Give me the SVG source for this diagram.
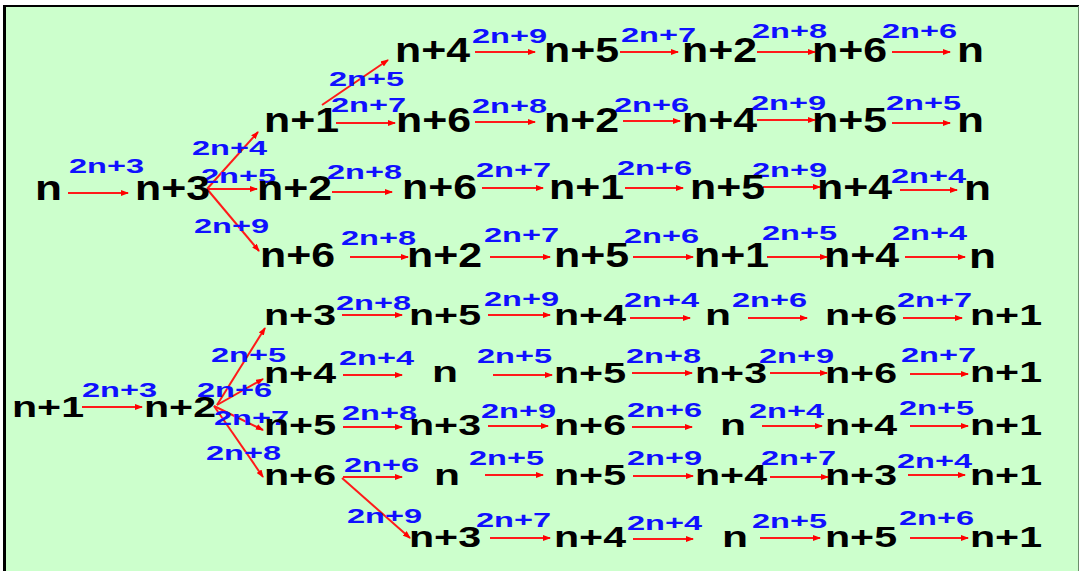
<svg xmlns="http://www.w3.org/2000/svg" width="1079" height="571" viewBox="0 0 1079 571">
<defs>
<style>
text{font-family:"Liberation Sans",Arial,sans-serif;font-weight:bold;}
.nt{font-size:35px;fill:#000;}
.nb{font-size:29px;fill:#000;}
.el{font-size:21px;fill:#1010ff;}
.ar{stroke:#ff1a1a;stroke-width:2;fill:none;marker-end:url(#ah);}
</style>
<marker id="ah" markerWidth="8" markerHeight="6" refX="7" refY="3" orient="auto" markerUnits="userSpaceOnUse"><path d="M0,0 L8,3 L0,6 z" fill="#ff0000"/></marker>
</defs>
<rect x="0" y="0" width="1079" height="571" fill="#ffffff"/>
<rect x="4" y="5" width="1075" height="566" fill="#ccffcc"/>
<line x1="4.5" y1="5" x2="4.5" y2="571" stroke="#000" stroke-width="3"/>
<line x1="3" y1="6" x2="1079" y2="6" stroke="#000" stroke-width="2"/>
<line x1="1078.5" y1="6" x2="1078.5" y2="571" stroke="#6b8e6b" stroke-width="1"/>

<g id="connectors">
<!-- top half -->
<line class="ar" x1="68" y1="193" x2="128" y2="193"/>
<line class="ar" x1="207" y1="189" x2="258" y2="132"/>
<line class="ar" x1="207" y1="189" x2="257" y2="189"/>
<line class="ar" x1="207" y1="189" x2="259" y2="251"/>
<line class="ar" x1="322" y1="105" x2="388" y2="60"/>
<line class="ar" x1="475" y1="52" x2="535" y2="52"/>
<line class="ar" x1="620" y1="52" x2="678" y2="52"/>
<line class="ar" x1="757" y1="52" x2="815" y2="52"/>
<line class="ar" x1="892" y1="52" x2="950" y2="52"/>
<line class="ar" x1="336" y1="123" x2="395" y2="123"/>
<line class="ar" x1="475" y1="122" x2="535" y2="122"/>
<line class="ar" x1="623" y1="121" x2="680" y2="121"/>
<line class="ar" x1="757" y1="120" x2="815" y2="120"/>
<line class="ar" x1="892" y1="123" x2="950" y2="123"/>
<line class="ar" x1="332" y1="192" x2="392" y2="192"/>
<line class="ar" x1="482" y1="188" x2="543" y2="188"/>
<line class="ar" x1="625" y1="188" x2="683" y2="188"/>
<line class="ar" x1="763" y1="187" x2="820" y2="187"/>
<line class="ar" x1="900" y1="190" x2="957" y2="190"/>
<line class="ar" x1="350" y1="257" x2="408" y2="257"/>
<line class="ar" x1="490" y1="257" x2="550" y2="257"/>
<line class="ar" x1="633" y1="257" x2="693" y2="257"/>
<line class="ar" x1="767" y1="257" x2="827" y2="257"/>
<line class="ar" x1="905" y1="257" x2="965" y2="257"/>
<!-- bottom half -->
<line class="ar" x1="82" y1="407" x2="142" y2="407"/>
<line class="ar" x1="217" y1="405" x2="265" y2="328"/>
<line class="ar" x1="217" y1="405" x2="263" y2="379"/>
<line class="ar" x1="214" y1="406" x2="263" y2="430"/>
<line class="ar" x1="214" y1="406" x2="263" y2="477"/>
<line class="ar" x1="342" y1="478" x2="410" y2="538"/>
<line class="ar" x1="342" y1="315" x2="402" y2="315"/>
<line class="ar" x1="488" y1="315" x2="550" y2="315"/>
<line class="ar" x1="630" y1="318" x2="690" y2="318"/>
<line class="ar" x1="748" y1="318" x2="807" y2="318"/>
<line class="ar" x1="903" y1="318" x2="962" y2="318"/>
<line class="ar" x1="343" y1="375" x2="402" y2="375"/>
<line class="ar" x1="493" y1="375" x2="552" y2="375"/>
<line class="ar" x1="632" y1="373" x2="692" y2="373"/>
<line class="ar" x1="770" y1="373" x2="827" y2="373"/>
<line class="ar" x1="910" y1="374" x2="968" y2="374"/>
<line class="ar" x1="343" y1="427" x2="402" y2="427"/>
<line class="ar" x1="488" y1="426" x2="548" y2="426"/>
<line class="ar" x1="632" y1="427" x2="692" y2="427"/>
<line class="ar" x1="762" y1="426" x2="822" y2="426"/>
<line class="ar" x1="910" y1="426" x2="968" y2="426"/>
<line class="ar" x1="343" y1="477" x2="402" y2="477"/>
<line class="ar" x1="485" y1="475" x2="543" y2="475"/>
<line class="ar" x1="633" y1="476" x2="693" y2="476"/>
<line class="ar" x1="770" y1="477" x2="828" y2="477"/>
<line class="ar" x1="908" y1="475" x2="965" y2="475"/>
<line class="ar" x1="490" y1="538" x2="550" y2="538"/>
<line class="ar" x1="633" y1="539" x2="693" y2="539"/>
<line class="ar" x1="760" y1="538" x2="820" y2="538"/>
<line class="ar" x1="910" y1="538" x2="968" y2="538"/>

<g id="edge-labels" class="el">
<text x="69" y="173" textLength="75" lengthAdjust="spacingAndGlyphs">2n+3</text>
<text x="192" y="155" textLength="75" lengthAdjust="spacingAndGlyphs">2n+4</text>
<text x="201" y="183" textLength="75" lengthAdjust="spacingAndGlyphs">2n+5</text>
<text x="194" y="233" textLength="75" lengthAdjust="spacingAndGlyphs">2n+9</text>
<text x="329" y="86" textLength="75" lengthAdjust="spacingAndGlyphs">2n+5</text>
<text x="472" y="43" textLength="75" lengthAdjust="spacingAndGlyphs">2n+9</text>
<text x="621" y="42" textLength="75" lengthAdjust="spacingAndGlyphs">2n+7</text>
<text x="752" y="38" textLength="75" lengthAdjust="spacingAndGlyphs">2n+8</text>
<text x="882" y="38" textLength="75" lengthAdjust="spacingAndGlyphs">2n+6</text>
<text x="331" y="112" textLength="75" lengthAdjust="spacingAndGlyphs">2n+7</text>
<text x="472" y="113" textLength="75" lengthAdjust="spacingAndGlyphs">2n+8</text>
<text x="614" y="112" textLength="75" lengthAdjust="spacingAndGlyphs">2n+6</text>
<text x="751" y="110" textLength="75" lengthAdjust="spacingAndGlyphs">2n+9</text>
<text x="886" y="110" textLength="75" lengthAdjust="spacingAndGlyphs">2n+5</text>
<text x="327" y="179" textLength="75" lengthAdjust="spacingAndGlyphs">2n+8</text>
<text x="476" y="177" textLength="75" lengthAdjust="spacingAndGlyphs">2n+7</text>
<text x="617" y="175" textLength="75" lengthAdjust="spacingAndGlyphs">2n+6</text>
<text x="752" y="177" textLength="75" lengthAdjust="spacingAndGlyphs">2n+9</text>
<text x="891" y="183" textLength="75" lengthAdjust="spacingAndGlyphs">2n+4</text>
<text x="341" y="245" textLength="75" lengthAdjust="spacingAndGlyphs">2n+8</text>
<text x="484" y="242" textLength="75" lengthAdjust="spacingAndGlyphs">2n+7</text>
<text x="624" y="243" textLength="75" lengthAdjust="spacingAndGlyphs">2n+6</text>
<text x="762" y="240" textLength="75" lengthAdjust="spacingAndGlyphs">2n+5</text>
<text x="892" y="240" textLength="75" lengthAdjust="spacingAndGlyphs">2n+4</text>

<text x="82" y="397" textLength="75" lengthAdjust="spacingAndGlyphs">2n+3</text>
<text x="211" y="362" textLength="75" lengthAdjust="spacingAndGlyphs">2n+5</text>
<text x="197" y="397" textLength="75" lengthAdjust="spacingAndGlyphs">2n+6</text>
<text x="214" y="425" textLength="75" lengthAdjust="spacingAndGlyphs">2n+7</text>
<text x="206" y="460" textLength="75" lengthAdjust="spacingAndGlyphs">2n+8</text>
<text x="347" y="523" textLength="75" lengthAdjust="spacingAndGlyphs">2n+9</text>
<text x="336" y="310" textLength="75" lengthAdjust="spacingAndGlyphs">2n+8</text>
<text x="484" y="306" textLength="75" lengthAdjust="spacingAndGlyphs">2n+9</text>
<text x="624" y="307" textLength="75" lengthAdjust="spacingAndGlyphs">2n+4</text>
<text x="732" y="307" textLength="75" lengthAdjust="spacingAndGlyphs">2n+6</text>
<text x="897" y="307" textLength="75" lengthAdjust="spacingAndGlyphs">2n+7</text>
<text x="339" y="365" textLength="75" lengthAdjust="spacingAndGlyphs">2n+4</text>
<text x="477" y="363" textLength="75" lengthAdjust="spacingAndGlyphs">2n+5</text>
<text x="626" y="363" textLength="75" lengthAdjust="spacingAndGlyphs">2n+8</text>
<text x="759" y="363" textLength="75" lengthAdjust="spacingAndGlyphs">2n+9</text>
<text x="901" y="362" textLength="75" lengthAdjust="spacingAndGlyphs">2n+7</text>
<text x="342" y="420" textLength="75" lengthAdjust="spacingAndGlyphs">2n+8</text>
<text x="481" y="418" textLength="75" lengthAdjust="spacingAndGlyphs">2n+9</text>
<text x="627" y="417" textLength="75" lengthAdjust="spacingAndGlyphs">2n+6</text>
<text x="749" y="418" textLength="75" lengthAdjust="spacingAndGlyphs">2n+4</text>
<text x="899" y="415" textLength="75" lengthAdjust="spacingAndGlyphs">2n+5</text>
<text x="344" y="472" textLength="75" lengthAdjust="spacingAndGlyphs">2n+6</text>
<text x="469" y="465" textLength="75" lengthAdjust="spacingAndGlyphs">2n+5</text>
<text x="627" y="465" textLength="75" lengthAdjust="spacingAndGlyphs">2n+9</text>
<text x="761" y="465" textLength="75" lengthAdjust="spacingAndGlyphs">2n+7</text>
<text x="897" y="468" textLength="75" lengthAdjust="spacingAndGlyphs">2n+4</text>
<text x="476" y="527" textLength="75" lengthAdjust="spacingAndGlyphs">2n+7</text>
<text x="627" y="530" textLength="75" lengthAdjust="spacingAndGlyphs">2n+4</text>
<text x="752" y="528" textLength="75" lengthAdjust="spacingAndGlyphs">2n+5</text>
<text x="899" y="525" textLength="75" lengthAdjust="spacingAndGlyphs">2n+6</text>
</g>
</g>

<g id="nodes-top" class="nt">
<g id="t-root"><text x="35" y="200" textLength="27" lengthAdjust="spacingAndGlyphs">n</text></g>
<g id="t-n3"><text x="135" y="200" textLength="75" lengthAdjust="spacingAndGlyphs">n+3</text></g>
<g id="t-r1c1"><text x="395" y="62" textLength="75" lengthAdjust="spacingAndGlyphs">n+4</text></g>
<g id="t-r1c2"><text x="544" y="62" textLength="75" lengthAdjust="spacingAndGlyphs">n+5</text></g>
<g id="t-r1c3"><text x="682" y="62" textLength="75" lengthAdjust="spacingAndGlyphs">n+2</text></g>
<g id="t-r1c4"><text x="812" y="62" textLength="75" lengthAdjust="spacingAndGlyphs">n+6</text></g>
<g id="t-r1c5"><text x="957" y="62" textLength="27" lengthAdjust="spacingAndGlyphs">n</text></g>
<g id="t-r2c0"><text x="264" y="132" textLength="75" lengthAdjust="spacingAndGlyphs">n+1</text></g>
<g id="t-r2c1"><text x="396" y="132" textLength="75" lengthAdjust="spacingAndGlyphs">n+6</text></g>
<g id="t-r2c2"><text x="544" y="132" textLength="75" lengthAdjust="spacingAndGlyphs">n+2</text></g>
<g id="t-r2c3"><text x="682" y="132" textLength="75" lengthAdjust="spacingAndGlyphs">n+4</text></g>
<g id="t-r2c4"><text x="812" y="132" textLength="75" lengthAdjust="spacingAndGlyphs">n+5</text></g>
<g id="t-r2c5"><text x="957" y="132" textLength="27" lengthAdjust="spacingAndGlyphs">n</text></g>
<g id="t-r3c0"><text x="257" y="200" textLength="75" lengthAdjust="spacingAndGlyphs">n+2</text></g>
<g id="t-r3c1"><text x="402" y="199" textLength="75" lengthAdjust="spacingAndGlyphs">n+6</text></g>
<g id="t-r3c2"><text x="549" y="199" textLength="75" lengthAdjust="spacingAndGlyphs">n+1</text></g>
<g id="t-r3c3"><text x="690" y="199" textLength="75" lengthAdjust="spacingAndGlyphs">n+5</text></g>
<g id="t-r3c4"><text x="817" y="199" textLength="75" lengthAdjust="spacingAndGlyphs">n+4</text></g>
<g id="t-r3c5"><text x="964" y="200" textLength="27" lengthAdjust="spacingAndGlyphs">n</text></g>
<g id="t-r4c0"><text x="260" y="267" textLength="75" lengthAdjust="spacingAndGlyphs">n+6</text></g>
<g id="t-r4c1"><text x="407" y="267" textLength="75" lengthAdjust="spacingAndGlyphs">n+2</text></g>
<g id="t-r4c2"><text x="554" y="267" textLength="75" lengthAdjust="spacingAndGlyphs">n+5</text></g>
<g id="t-r4c3"><text x="694" y="267" textLength="75" lengthAdjust="spacingAndGlyphs">n+1</text></g>
<g id="t-r4c4"><text x="824" y="267" textLength="75" lengthAdjust="spacingAndGlyphs">n+4</text></g>
<g id="t-r4c5"><text x="969" y="268" textLength="27" lengthAdjust="spacingAndGlyphs">n</text></g>
</g>

<g id="nodes-bottom" class="nb">
<g id="b-root"><text x="12" y="417" textLength="72" lengthAdjust="spacingAndGlyphs">n+1</text></g>
<g id="b-n2"><text x="144" y="417" textLength="72" lengthAdjust="spacingAndGlyphs">n+2</text></g>
<g id="b-r5c0"><text x="264" y="325" textLength="72" lengthAdjust="spacingAndGlyphs">n+3</text></g>
<g id="b-r5c1"><text x="409" y="325" textLength="72" lengthAdjust="spacingAndGlyphs">n+5</text></g>
<g id="b-r5c2"><text x="554" y="325" textLength="72" lengthAdjust="spacingAndGlyphs">n+4</text></g>
<g id="b-r5c3"><text x="705" y="325" textLength="26" lengthAdjust="spacingAndGlyphs">n</text></g>
<g id="b-r5c4"><text x="825" y="325" textLength="72" lengthAdjust="spacingAndGlyphs">n+6</text></g>
<g id="b-r5c5"><text x="970" y="325" textLength="72" lengthAdjust="spacingAndGlyphs">n+1</text></g>
<g id="b-r6c0"><text x="264" y="383" textLength="72" lengthAdjust="spacingAndGlyphs">n+4</text></g>
<g id="b-r6c1"><text x="432" y="382" textLength="26" lengthAdjust="spacingAndGlyphs">n</text></g>
<g id="b-r6c2"><text x="554" y="383" textLength="72" lengthAdjust="spacingAndGlyphs">n+5</text></g>
<g id="b-r6c3"><text x="695" y="383" textLength="72" lengthAdjust="spacingAndGlyphs">n+3</text></g>
<g id="b-r6c4"><text x="825" y="383" textLength="72" lengthAdjust="spacingAndGlyphs">n+6</text></g>
<g id="b-r6c5"><text x="970" y="382" textLength="72" lengthAdjust="spacingAndGlyphs">n+1</text></g>
<g id="b-r7c0"><text x="264" y="435" textLength="72" lengthAdjust="spacingAndGlyphs">n+5</text></g>
<g id="b-r7c1"><text x="409" y="435" textLength="72" lengthAdjust="spacingAndGlyphs">n+3</text></g>
<g id="b-r7c2"><text x="554" y="435" textLength="72" lengthAdjust="spacingAndGlyphs">n+6</text></g>
<g id="b-r7c3"><text x="720" y="435" textLength="26" lengthAdjust="spacingAndGlyphs">n</text></g>
<g id="b-r7c4"><text x="825" y="435" textLength="72" lengthAdjust="spacingAndGlyphs">n+4</text></g>
<g id="b-r7c5"><text x="970" y="435" textLength="72" lengthAdjust="spacingAndGlyphs">n+1</text></g>
<g id="b-r8c0"><text x="264" y="485" textLength="72" lengthAdjust="spacingAndGlyphs">n+6</text></g>
<g id="b-r8c1"><text x="434" y="485" textLength="26" lengthAdjust="spacingAndGlyphs">n</text></g>
<g id="b-r8c2"><text x="554" y="485" textLength="72" lengthAdjust="spacingAndGlyphs">n+5</text></g>
<g id="b-r8c3"><text x="695" y="485" textLength="72" lengthAdjust="spacingAndGlyphs">n+4</text></g>
<g id="b-r8c4"><text x="825" y="485" textLength="72" lengthAdjust="spacingAndGlyphs">n+3</text></g>
<g id="b-r8c5"><text x="970" y="485" textLength="72" lengthAdjust="spacingAndGlyphs">n+1</text></g>
<g id="b-r9c1"><text x="409" y="547" textLength="72" lengthAdjust="spacingAndGlyphs">n+3</text></g>
<g id="b-r9c2"><text x="554" y="547" textLength="72" lengthAdjust="spacingAndGlyphs">n+4</text></g>
<g id="b-r9c3"><text x="722" y="547" textLength="26" lengthAdjust="spacingAndGlyphs">n</text></g>
<g id="b-r9c4"><text x="825" y="547" textLength="72" lengthAdjust="spacingAndGlyphs">n+5</text></g>
<g id="b-r9c5"><text x="970" y="547" textLength="72" lengthAdjust="spacingAndGlyphs">n+1</text></g>
</g>
</svg>
